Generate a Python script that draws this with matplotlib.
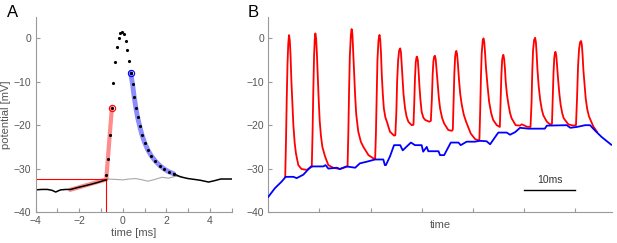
import matplotlib.pyplot as plt
from matplotlib.ticker import MultipleLocator

plt.rcParams['font.family'] = ['Liberation Sans', 'DejaVu Sans']

# --- panel A data (time in ms, potential in mV) ---
base_t = [-4.0, -3.7, -3.46, -3.25, -3.08, -2.95, -2.85, -2.6, -2.39, -2.1,
          -1.77, -1.45, -1.16, -0.9, -0.76]
base_v = [-34.9, -34.8, -34.8, -35.0, -35.4, -35.1, -34.9, -34.8, -34.8, -34.4,
          -34.0, -33.6, -33.2, -32.8, -32.6]

spike_t = [-0.76, -0.68, -0.59, -0.515, -0.45, -0.36, -0.27, -0.174, -0.114,
           -0.02, 0.06, 0.15, 0.21, 0.29, 0.36]
spike_v = [-31.5, -27.9, -22.3, -16.0, -10.2, -5.45, -2.07, 0.15, 1.3,
           1.53, 0.93, -0.55, -2.7, -5.2, -7.9]

decay_t = [0.36, 0.45, 0.52, 0.6, 0.68, 0.78, 0.88, 1.0, 1.15, 1.3, 1.5, 1.7,
           1.9, 2.1, 2.34, 2.65, 3.0, 3.3, 3.57, 3.94, 4.2, 4.5, 5.0]
decay_v = [-7.9, -10.6, -13.4, -16.0, -18.2, -20.3, -22.2, -24.0, -25.7, -27.0,
           -28.3, -29.3, -30.1, -30.7, -31.2, -31.9, -32.3, -32.5, -32.7, -33.1,
           -32.8, -32.4, -32.4]

grey_t = [-0.75, -0.3, 0.0, 0.3, 0.6, 0.9, 1.15, 1.4, 1.8, 2.1, 2.4, 2.7]
grey_v = [-32.4, -32.5, -32.6, -32.4, -32.3, -32.6, -32.9, -32.6, -32.0, -32.2, -31.8, -31.8]

fit_t = [-2.42, -0.76, -0.5]
fit_v = [-34.9, -32.5, -16.0]
thr_t = -0.75
thr_v = -32.4
blue_fit_end = 2.34

# --- panel B data ---
red_t = [3.3, 3.45, 3.6, 3.75, 3.9, 4.05, 4.2, 4.35, 4.5, 4.7, 4.9, 5.15, 5.4, 5.87, 6.5, 7.5, 8.35,
         8.5, 8.65, 8.8, 8.95, 9.08, 9.2, 9.35, 9.5, 9.66, 9.85, 10.05, 10.3, 10.57, 11.1, 11.74, 12.7, 14.0, 15.3,
         15.5, 15.65, 15.8, 15.95, 16.15, 16.3, 16.45, 16.6, 16.8, 17.0, 17.2, 17.6, 18.1, 18.6, 19.6, 20.5, 20.9,
         21.05, 21.2, 21.35, 21.55, 21.75, 21.9, 22.05, 22.2, 22.4, 22.6, 22.9, 23.2, 23.8, 24.6, 24.85,
         25.05, 25.2, 25.4, 25.6, 25.8, 25.95, 26.1, 26.25, 26.45, 26.75, 27.05, 27.4, 28.06, 28.4,
         28.55, 28.7, 28.85, 29.0, 29.1, 29.25, 29.4, 29.55, 29.75, 30.0, 30.35, 30.7, 31.5, 31.8,
         32.0, 32.15, 32.3, 32.45, 32.6, 32.75, 32.9, 33.1, 33.35, 33.6, 34.0, 34.4, 35.2, 35.9, 36.1,
         36.25, 36.4, 36.55, 36.7, 36.8, 36.95, 37.1, 37.3, 37.55, 37.85, 38.25, 38.7, 39.6, 40.45, 41.1, 41.3,
         41.45, 41.6, 41.75, 41.95, 42.1, 42.25, 42.4, 42.6, 42.9, 43.2, 43.6, 44.0, 44.7, 45.3,
         45.45, 45.6, 45.75, 45.9, 46.0, 46.15, 46.3, 46.45, 46.7, 47.0, 47.3, 47.6, 48.4, 49.25, 49.6, 50.6, 51.3,
         51.5, 51.65, 51.8, 52.0, 52.2, 52.35, 52.5, 52.65, 52.9, 53.2, 53.5, 53.8, 54.5, 55.1, 55.5,
         55.65, 55.8, 55.95, 56.1, 56.2, 56.35, 56.5, 56.7, 56.95, 57.2, 57.5, 57.8, 58.7, 59.7, 60.2,
         60.4, 60.6, 60.8, 61.0, 61.2, 61.35, 61.5, 61.65, 61.9, 62.1, 62.4, 62.75, 63.6, 64.3]
red_v = [-31.9, -24, -14, -6, -1.2, 0.77, -0.5, -4, -9.5, -15, -20, -24, -26.5, -29.2, -30.1, -30.3, -29.7,
         -29.6, -22, -12, -4, -0.3, 1.15, 0, -3.5, -8.4, -14, -19, -22.5, -25.0, -27.2, -29.2, -29.8, -30.1, -29.6,
         -29.5, -22, -12, -4, 0.8, 2.15, 1, -3, -8.4, -13.5, -17.5, -21.5, -23.8, -25.0, -26.9, -27.6, -27.8,
         -22, -13, -5, -0.5, 0.8, -0.3, -3.5, -8.4, -12.8, -16.1, -18.2, -19.2, -21.5, -22.4, -22.3,
         -17, -10, -5, -2.8, -2.3, -3.2, -6, -9, -12.8, -16.1, -18, -19.2, -20.0, -19.9,
         -15, -9, -5.5, -4.3, -4.2, -5, -7.5, -10.7, -14, -16.9, -18.3, -18.8, -19.2, -19.0,
         -14, -8.5, -5.3, -4.2, -4.0, -4.8, -7, -10.1, -13.5, -16.1, -18.3, -19.6, -21.1, -21.3, -21.0,
         -14, -8, -4.3, -3.0, -2.9, -3.8, -6, -9.4, -12.8, -15.3, -17.6, -19.2, -21.9, -23.2, -23.5, -23.3,
         -17, -9, -3.5, -0.5, 0.0, -0.8, -3.2, -6.9, -11, -14.6, -17.2, -18.8, -20.0, -20.4,
         -14, -8.5, -5, -3.9, -3.8, -4.8, -7, -10.0, -13, -15.3, -17.2, -18.4, -20.0, -20.1, -19.8, -20.35, -20.4,
         -15, -7.5, -2.8, -0.4, 0.15, -0.8, -3.5, -7, -11, -14.2, -16.3, -17.7, -19.2, -19.8, -19.7,
         -14, -8, -4.5, -3.2, -3.1, -4, -6.3, -9.4, -12.8, -15.3, -17.2, -18.4, -19.8, -20.1, -20.0,
         -14, -6.5, -2.5, -0.9, -0.6, -1.5, -4, -7.3, -11, -13.8, -16.3, -18.0, -20.3, -21.5]

blue_t = [0, 1.3, 2.6, 3.4, 4.9, 5.55, 6.85, 8.35, 10.76, 11.2, 11.74, 13.4, 14.0,
          15.3, 17.0, 17.9, 19.3, 20.9, 22.5, 22.8, 23.0, 23.8, 24.6, 25.8, 26.3,
          27.0, 27.9, 28.7, 30.0, 30.3, 31.0, 31.3, 33.3, 33.6, 34.4, 35.7, 37.2,
          37.65, 38.8, 40.4, 41.4, 42.7, 43.4, 44.4, 45.0, 46.65, 47.3, 48.3,
          49.25, 50.9, 54.1, 54.5, 58.4, 59.1, 60.4, 62.0, 62.95, 63.9, 65.2, 67.1]
blue_v = [-36.5, -34.5, -33.0, -31.9, -31.9, -32.2, -31.4, -29.5, -29.5, -29.2, -30.0,
          -29.8, -30.1, -29.5, -29.8, -28.8, -28.4, -27.9, -27.9, -29.2, -29.2, -27.2,
          -24.6, -24.6, -25.8, -25.0, -24.0, -24.6, -24.6, -26.1, -25.0, -26.0, -26.0,
          -26.9, -26.9, -24.0, -24.0, -24.6, -23.8, -23.8, -23.6, -23.7, -24.4, -22.7,
          -21.7, -21.7, -22.2, -21.6, -20.6, -20.8, -20.8, -20.1, -20.0, -20.6, -20.4,
          -20.0, -20.0, -21.2, -22.7, -24.5]

scale_bar = [50.1, 60.0]
scale_y = -34.9

axis_col = '#9a9a9a'
text_col = '#555555'

fig = plt.figure(figsize=(6.17, 2.43), dpi=100)
axA = fig.add_axes([0.0578, 0.1276, 0.3177, 0.8037])
axB = fig.add_axes([0.4349, 0.1276, 0.5566, 0.8037])


def style(ax):
    for s in ['top', 'right']:
        ax.spines[s].set_visible(False)
    for s in ['left', 'bottom']:
        ax.spines[s].set_color(axis_col)
        ax.spines[s].set_linewidth(0.8)
    ax.tick_params(which='both', direction='in', length=3, width=0.8,
                   color=axis_col, labelcolor=text_col, labelsize=7.5, pad=3)
    ax.set_ylim(-40, 5)
    ax.set_yticks([-40, -30, -20, -10, 0])


# panel A
style(axA)
axA.set_xlim(-4, 5)
axA.xaxis.set_major_locator(MultipleLocator(2))
axA.xaxis.set_minor_locator(MultipleLocator(1))
axA.plot([-4, thr_t], [thr_v, thr_v], color='red', lw=0.8)
axA.plot([thr_t, thr_t], [-40, thr_v], color='red', lw=0.8)
axA.plot(grey_t, grey_v, color='#a8a8a8', lw=0.8)
axA.plot(fit_t, fit_v, color='red', lw=3, alpha=0.45, solid_capstyle='round')
dt = [t for t in decay_t if t <= blue_fit_end]
dv = decay_v[:len(dt)]
axA.plot(dt, dv, color='blue', lw=3.5, alpha=0.45, solid_capstyle='round')
axA.plot(base_t, base_v, color='black', lw=1.1)
axA.plot(decay_t[len(dt) - 1:], decay_v[len(dt) - 1:], color='black', lw=1.1)
axA.plot(spike_t, spike_v, 'k.', ms=2.5)
axA.plot(dt, dv, 'k.', ms=2.5)
axA.plot([fit_t[-1]], [fit_v[-1]], 'o', mfc='none', mec='red', ms=4.5, mew=0.8)
axA.plot([decay_t[0]], [decay_v[0]], 'o', mfc='none', mec='blue', ms=4.5, mew=0.8)
axA.set_xlabel('time [ms]', fontsize=8, color=text_col, labelpad=1)
axA.set_ylabel('potential [mV]', fontsize=8, color=text_col, labelpad=2)
fig.text(0.012, 0.93, 'A', fontsize=12, color='black')

# panel B
style(axB)
axB.set_xlim(0, 67.2)
axB.set_xticks([10, 20, 30, 40, 50, 60])
axB.set_xticklabels([])
axB.plot(red_t, red_v, color='red', lw=1.3, zorder=2)
axB.plot(blue_t, blue_v, color='blue', lw=1.3, zorder=3)
axB.plot(scale_bar, [scale_y, scale_y], color='black', lw=1)
axB.text(sum(scale_bar) / 2, scale_y + 1.2, '10ms', ha='center', va='bottom',
         fontsize=7.5, color='#333333')
axB.set_xlabel('time', fontsize=8, color=text_col, labelpad=3)
fig.text(0.401, 0.93, 'B', fontsize=12, color='black')

fig.savefig('out.png', dpi=100)
